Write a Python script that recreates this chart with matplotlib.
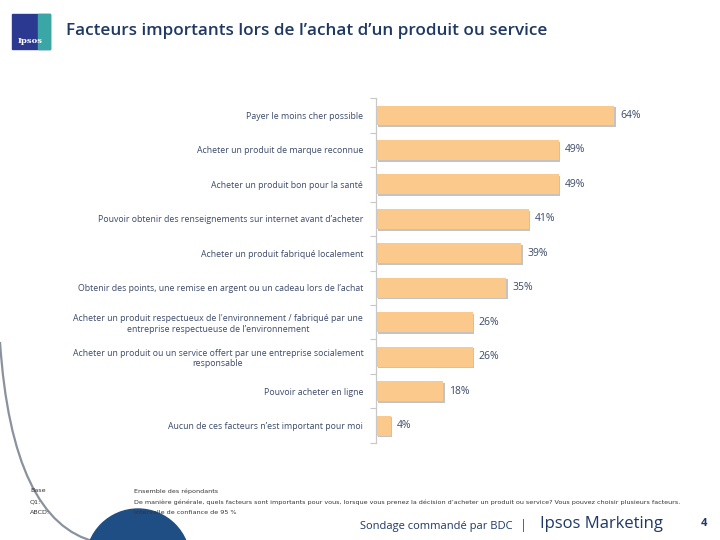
import matplotlib.pyplot as plt
import matplotlib.patheffects as pe
from matplotlib.patches import Rectangle, Circle, PathPatch
from matplotlib.path import Path
from matplotlib.transforms import Affine2D

plt.rcParams['font.family'] = ['Open Sans', 'DejaVu Sans']

TITLE = 'Facteurs importants lors de l’achat d’un produit ou service'

categories = [
    'Payer le moins cher possible',
    'Acheter un produit de marque reconnue',
    'Acheter un produit bon pour la santé',
    'Pouvoir obtenir des renseignements sur internet avant d’acheter',
    'Acheter un produit fabriqué localement',
    'Obtenir des points, une remise en argent ou un cadeau lors de l’achat',
    "Acheter un produit respectueux de l'environnement / fabriqué par une\nentreprise respectueuse de l’environnement",
    'Acheter un produit ou un service offert par une entreprise socialement\nresponsable',
    'Pouvoir acheter en ligne',
    'Aucun de ces facteurs n’est important pour moi',
]
values = [64, 49, 49, 41, 39, 35, 26, 26, 18, 4]

footer_keys = ['Base', 'Q1:', 'ABCD:']
footer_texts = [
    'Ensemble des répondants',
    'De manière générale, quels facteurs sont importants pour vous, lorsque vous prenez la décision d’acheter '
    'un produit ou service? Vous pouvez choisir plusieurs facteurs.',
    'Intervalle de confiance de 95 %',
]

NAVY = '#1f3864'
TEXT = '#3b4a68'
BAR = '#fac98b'

fig = plt.figure(figsize=(7.2, 5.4), dpi=100)

# pixel transform (origin top-left)
px = Affine2D().scale(1 / 720, -1 / 540).translate(0, 1) + fig.transFigure

# decorative grey arc and blue circle
arc = Path([(0, 342), (12, 522), (96, 542)], [Path.MOVETO, Path.CURVE3, Path.CURVE3])
fig.patches.append(PathPatch(arc, transform=px, fill=False, edgecolor='#8a929e', lw=1.6))
fig.patches.append(Circle((138, 561), 52, transform=px, color='#1f4e85', zorder=2))

# logo
fig.patches.append(Rectangle((12, 14), 38, 35, transform=px, color='#2b3990'))
fig.patches.append(Rectangle((38, 14), 12, 35, transform=px, color='#3aa6a5'))
fig.text(30, 41, 'Ipsos', transform=px, color='white', fontsize=6, fontweight='bold',
         ha='center', va='center', family='DejaVu Serif')

fig.text(66, 31, TITLE, transform=px, color=NAVY, fontsize=12.3, fontweight='semibold',
         ha='left', va='center')

ax = fig.add_axes([0.522, 0.180, 0.378, 0.638])
y = list(range(len(categories)))
bars = ax.barh(y, values, height=0.58, color=BAR, zorder=2)
for b in bars:
    b.set_path_effects([pe.SimplePatchShadow(offset=(1.2, -1.2), shadow_rgbFace='#9c9c9c', alpha=0.6),
                        pe.Normal()])
for yi, v in zip(y, values):
    ax.text(v + 1.6, yi, f'{v}%', va='center', ha='left', fontsize=7.5, color=TEXT)

ax.set_xlim(0, 73)
ax.set_ylim(len(categories) - 0.5, -0.5)
ax.set_yticks(y)
ax.set_yticklabels(categories, fontsize=6.3, color=TEXT)
for lab in ax.get_yticklabels():
    lab.set_multialignment('center')
ax.set_yticks([i + 0.5 for i in range(-1, len(categories))], minor=True)
ax.tick_params(axis='y', which='major', length=0, pad=9)
ax.tick_params(axis='y', which='minor', length=4, color='#c8c8c8', width=0.8)
ax.set_xticks([])
for s in ['top', 'right', 'bottom']:
    ax.spines[s].set_visible(False)
ax.spines['left'].set_color('#c8c8c8')
ax.spines['left'].set_linewidth(0.9)

# footer
for i, (k, t) in enumerate(zip(footer_keys, footer_texts)):
    fig.text(30, 491 + i * 11, k, transform=px, fontsize=4.6, color='#333333', va='center',
             family='Liberation Sans Narrow')
    fig.text(134, 491 + i * 11, t, transform=px, fontsize=4.6, color='#333333', va='center',
             family='Liberation Sans Narrow')

fig.text(512, 526, 'Sondage commandé par BDC', transform=px, fontsize=8, color=NAVY,
         ha='right', va='center')
fig.text(523, 526, '|', transform=px, fontsize=9, color='#c0202a', ha='center', va='center')
fig.text(540, 524, 'Ipsos Marketing', transform=px, fontsize=12, color=NAVY,
         ha='left', va='center')
fig.text(704, 524, '4', transform=px, fontsize=8, color=NAVY, fontweight='bold',
         ha='center', va='center')

fig.savefig('out.png', dpi=100)
